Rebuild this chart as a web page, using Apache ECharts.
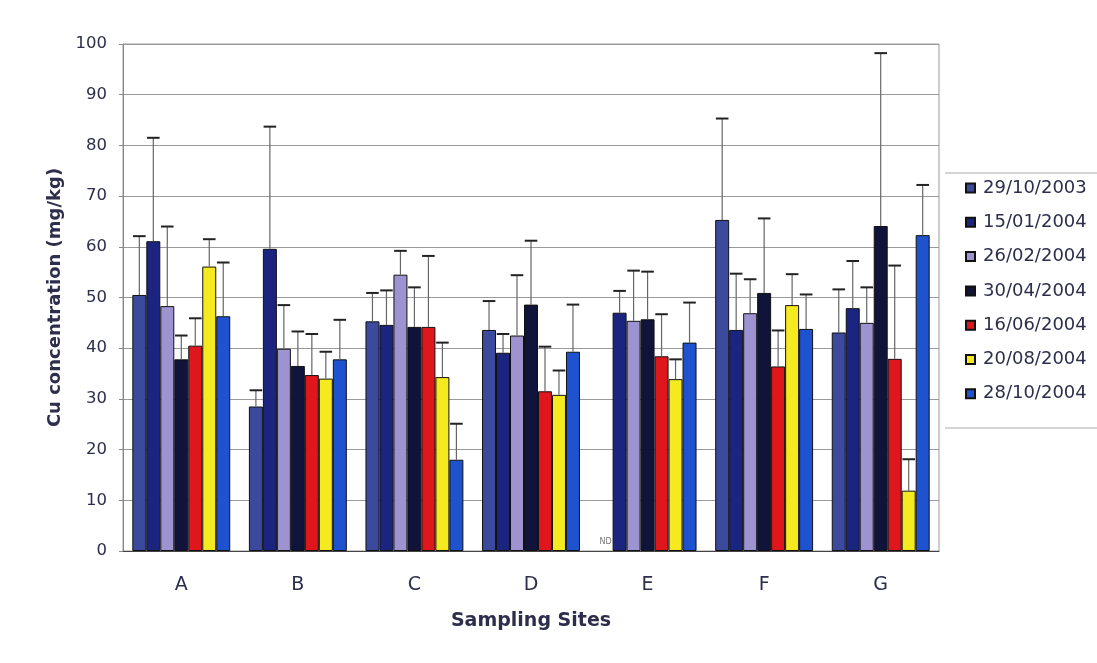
<!DOCTYPE html>
<html>
<head>
<meta charset="utf-8">
<script src="https://cdn.jsdelivr.net/npm/echarts@6/dist/echarts.min.js"></script>
<style>html,body{margin:0;padding:0;background:#fff;}#c{width:1097px;height:663px;}</style>
</head>
<body>
<div id="c"></div>
<script>
const categories = ['A', 'B', 'C', 'D', 'E', 'F', 'G'];
const seriesNames = ['29/10/2003', '15/01/2004', '26/02/2004', '30/04/2004', '16/06/2004', '20/08/2004', '28/10/2004'];
const yTicks = [0, 10, 20, 30, 40, 50, 60, 70, 80, 90, 100];

// mean values (null = ND)
const s20031029 = [50.5, 28.5, 45.3, 43.6, null, 65.3, 43.1];
const s20040115 = [61.1, 59.6, 44.6, 39.1, 47.0, 43.6, 47.9];
const s20040226 = [48.3, 39.9, 54.5, 42.5, 45.4, 46.9, 45.0];
const s20040430 = [37.8, 36.5, 44.2, 48.6, 45.7, 50.9, 64.1];
const s20040616 = [40.5, 34.7, 44.2, 31.5, 38.4, 36.4, 37.9];
const s20040820 = [56.1, 34.0, 34.3, 30.8, 33.9, 48.5, 11.9];
const s20041028 = [46.3, 37.8, 18.0, 39.3, 41.1, 43.8, 62.3];

// upper end of error bars
const u20031029 = [62.1, 31.7, 50.9, 49.3, null, 85.3, 51.6];
const u20040115 = [81.5, 83.7, 51.4, 42.8, 51.3, 54.7, 57.2];
const u20040226 = [64.0, 48.5, 59.2, 54.4, 55.3, 53.6, 52.0];
const u20040430 = [42.5, 43.3, 52.0, 61.2, 55.1, 65.6, 98.2];
const u20040616 = [45.9, 42.8, 58.2, 40.3, 46.7, 43.5, 56.3];
const u20040820 = [61.5, 39.3, 41.1, 35.6, 37.8, 54.6, 18.1];
const u20041028 = [56.9, 45.6, 25.1, 48.6, 49.0, 50.6, 72.2];

const means = [s20031029, s20040115, s20040226, s20040430, s20040616, s20040820, s20041028];
const uppers = [u20031029, u20040115, u20040226, u20040430, u20040616, u20040820, u20041028];
const colors = ['#3c4a9e', '#1b2580', '#9d93d0', '#10133a', '#e0161d', '#f5e91f', '#1e52cf'];

const catGap = 0.16;
const nS = seriesNames.length;
const textColor = '#2c2e4c';

const barSeries = seriesNames.map((name, i) => ({
  name: name,
  type: 'bar',
  data: means[i],
  barGap: 0,
  barCategoryGap: (catGap * 100) + '%',
  itemStyle: {color: colors[i], borderColor: '#111', borderWidth: 1},
  emphasis: {disabled: true}
}));

const errData = [];
means.forEach((arr, si) => arr.forEach((v, ci) => {
  errData.push([ci, si, v == null ? NaN : v, uppers[si][ci] == null ? NaN : uppers[si][ci]]);
}));

const errSeries = {
  type: 'custom',
  name: 'err',
  data: errData,
  z: 10,
  encode: {x: 0, y: 2},
  renderItem: function (params, api) {
    const ci = api.value(0), si = api.value(1), v = api.value(2), u = api.value(3);
    const band = api.size([1, 0])[0];
    const total = band * (1 - catGap);
    const bw = total / nS;
    const c0 = api.coord([ci, 0]);
    const x = c0[0] - total / 2 + (si + 0.5) * bw;
    if (isNaN(v)) {
      return {type: 'text', x: x, y: c0[1] - 5, style: {text: 'ND', fill: '#777', font: '8px "DejaVu Sans"', align: 'center', verticalAlign: 'bottom'}};
    }
    const p1 = api.coord([ci, v]);
    const p2 = api.coord([ci, u]);
    const cap = bw * 0.45;
    return {type: 'group', children: [
      {type: 'line', shape: {x1: x, y1: p1[1], x2: x, y2: p2[1]}, style: {stroke: '#666', lineWidth: 1.2}},
      {type: 'line', shape: {x1: x - cap, y1: p2[1], x2: x + cap, y2: p2[1]}, style: {stroke: '#222', lineWidth: 2}}
    ]};
  }
};

const chart = echarts.init(document.getElementById('c'));
chart.setOption({
  backgroundColor: '#ffffff',
  animation: false,
  textStyle: {fontFamily: '"DejaVu Sans", sans-serif'},
  grid: {left: 123, right: 158, top: 44, bottom: 112, show: true, borderColor: '#999', borderWidth: 1},
  xAxis: {
    type: 'category',
    data: categories,
    name: 'Sampling Sites',
    nameLocation: 'middle',
    nameGap: 61,
    nameTextStyle: {fontSize: 19, fontWeight: 'bold', color: textColor},
    axisLine: {lineStyle: {color: '#444', width: 1}},
    axisTick: {show: false},
    axisLabel: {fontSize: 19, color: textColor, margin: 25}
  },
  yAxis: {
    type: 'value',
    min: yTicks[0],
    max: yTicks[yTicks.length - 1],
    interval: yTicks[1] - yTicks[0],
    name: 'Cu concentration (mg/kg)',
    nameLocation: 'middle',
    nameGap: 57,
    nameTextStyle: {fontSize: 18, fontWeight: 'bold', color: textColor},
    axisLine: {show: true, lineStyle: {color: '#888'}},
    axisTick: {show: true, length: 4, lineStyle: {color: '#888'}},
    axisLabel: {fontSize: 16.5, color: textColor, margin: 16},
    splitLine: {lineStyle: {color: '#9a9a9a', width: 1}}
  },
  legend: {
    data: seriesNames,
    orient: 'vertical',
    icon: 'rect',
    left: 960,
    top: 174,
    itemWidth: 9,
    itemHeight: 9,
    itemGap: 16.3,
    textStyle: {fontSize: 18, color: textColor, padding: [0, 0, 0, 3]}
  },
  graphic: [
    {type: 'line', shape: {x1: 945, y1: 173, x2: 1097, y2: 173}, style: {stroke: '#aaa', lineWidth: 1}},
    {type: 'line', shape: {x1: 945, y1: 428, x2: 1097, y2: 428}, style: {stroke: '#aaa', lineWidth: 1}}
  ],
  series: barSeries.concat([errSeries])
});
</script>
</body>
</html>
